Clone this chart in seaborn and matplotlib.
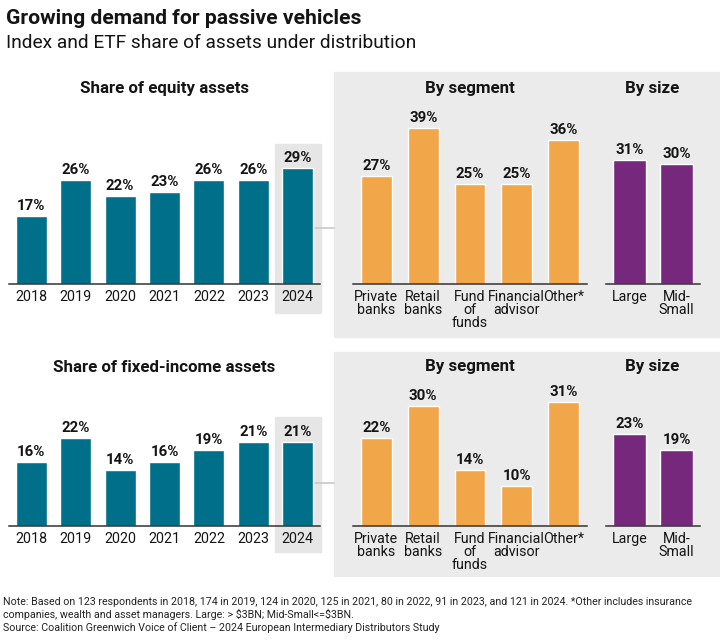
import seaborn as sns
import matplotlib.pyplot as plt
import pandas as pd
from matplotlib.patches import Rectangle
from matplotlib.lines import Line2D

# data
years = ['2018', '2019', '2020', '2021', '2022', '2023', '2024']
equity_years = [17, 26, 22, 23, 26, 26, 29]
fixed_years = [16, 22, 14, 16, 19, 21, 21]

segments = ['Private\nbanks', 'Retail\nbanks', 'Fund\nof\nfunds', 'Financial\nadvisor', 'Other*']
equity_seg = [27, 39, 25, 25, 36]
fixed_seg = [22, 30, 14, 10, 31]

sizes = ['Large', 'Mid-\nSmall']
equity_size = [31, 30]
fixed_size = [23, 19]

TEAL = '#006f89'
ORANGE = '#f2a64a'
PURPLE = '#76287d'
PANEL = '#ebebeb'
HILITE = '#e6e6e6'
TXT = '#141414'

sns.set_style('white')
plt.rcParams['font.family'] = ['Roboto', 'DejaVu Sans']

W, H = 720, 640
fig = plt.figure(figsize=(W / 100, H / 100), dpi=100)


def fx(px):
    return px / W


def fy(py):
    return 1 - py / H


def make_ax(x0, x1, base, xlim):
    # axes spanning 0..45 % at 4 px per %
    ax = fig.add_axes([fx(x0), fy(base), fx(x1 - x0), 180 / H])
    ax.set_facecolor('none')
    ax.set_ylim(0, 45)
    ax.set_xlim(*xlim)
    return ax


def draw(ax, cats, vals, color, width):
    df = pd.DataFrame({'cat': cats, 'val': vals})
    sns.barplot(data=df, x='cat', y='val', color=color, width=width,
                saturation=1, ax=ax, zorder=2)
    for c in ax.containers:
        ax.bar_label(c, labels=[f'{v}%' for v in vals], padding=2,
                     fontsize=10.8, fontweight='bold', color=TXT)
    sns.despine(ax=ax, left=True)
    ax.spines['bottom'].set_color('#333333')
    ax.spines['bottom'].set_linewidth(1.1)
    ax.set_yticks([])
    ax.set_xlabel('')
    ax.set_ylabel('')
    ax.tick_params(axis='x', length=0, pad=4, labelsize=10.3, labelcolor=TXT)
    for t in ax.get_xticklabels():
        t.set_linespacing(0.95)
        t.set_va('top')


# grey panels behind the segment / size charts
for top, bot in [(72, 337), (352, 576)]:
    fig.patches.append(Rectangle((fx(334), fy(bot)), fx(W - 334), (bot - top) / H,
                                 transform=fig.transFigure, color=PANEL, zorder=-2))

rows = [
    (284, 'Share of equity assets', equity_years, equity_seg, equity_size, 88, 228, (-7.25, 35)),
    (526, 'Share of fixed-income assets', fixed_years, fixed_seg, fixed_size, 367, 483, (-6.5, 27.25)),
]

for base, ttl, yv, sv, zv, ty, cy, (hlo, hhi) in rows:
    ax1 = make_ax(9, 320, base, (-0.65, 6.63))
    ax1.add_patch(Rectangle((6 - 0.515, hlo), 1.03, hhi - hlo, color=HILITE,
                            zorder=0.5, clip_on=False))
    draw(ax1, years, yv, TEAL, 0.7)

    ax2 = make_ax(353, 587, base, (-0.57, 4.57))
    draw(ax2, segments, sv, ORANGE, 0.66)

    ax3 = make_ax(606, 700, base, (-0.58, 1.6))
    draw(ax3, sizes, zv, PURPLE, 0.7)

    fig.text(fx(164.5), fy(ty), ttl, ha='center', va='center', fontsize=12.2,
             fontweight='bold', color=TXT)
    fig.text(fx(470), fy(ty), 'By segment', ha='center', va='center', fontsize=12.2,
             fontweight='bold', color=TXT)
    fig.text(fx(652), fy(ty), 'By size', ha='center', va='center', fontsize=12.2,
             fontweight='bold', color=TXT)

    fig.add_artist(Line2D([fx(315), fx(334)], [fy(cy), fy(cy)], color='#c8c8c8',
                          lw=1.2, transform=fig.transFigure))

fig.text(fx(6), fy(19), 'Growing demand for passive vehicles', ha='left', va='center',
         fontsize=15.2, fontweight='bold', color=TXT)
fig.text(fx(6), fy(43), 'Index and ETF share of assets under distribution', ha='left',
         va='center', fontsize=13.8, color=TXT)

note = ('Note: Based on 123 respondents in 2018, 174 in 2019, 124 in 2020, 125 in 2021, '
        '80 in 2022, 91 in 2023, and 121 in 2024. *Other includes insurance\n'
        'companies, wealth and asset managers. Large: > \\$3BN; Mid-Small<=\\$3BN.\n'
        'Source: Coalition Greenwich Voice of Client \u2013 2024 European Intermediary '
        'Distributors Study')
fig.text(fx(3), fy(597), note, ha='left', va='top', fontsize=7.7, linespacing=1.2,
         color='#222222', family=['Liberation Sans Narrow', 'DejaVu Sans Condensed', 'Roboto'])

fig.savefig('out.png', dpi=100)
